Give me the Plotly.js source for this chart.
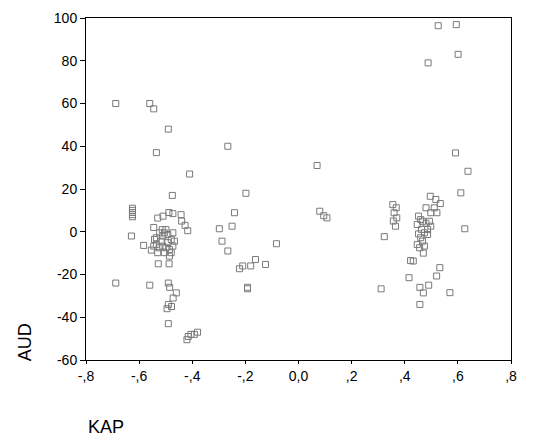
<!DOCTYPE html>
<html>
<head>
<meta charset="utf-8">
<script src="https://cdn.plot.ly/plotly-3.0.1.min.js"></script>
<style>html,body{margin:0;padding:0;background:#fff;}#chart{width:537px;height:440px;}</style>
</head>
<body>
<div id="chart"></div>
<script>
const kap = [
  -0.688, -0.56, -0.545, -0.49, -0.535, -0.41, -0.266, -0.475, -0.198,
  -0.625, -0.625, -0.625, -0.625, -0.625, -0.629,
  -0.688, -0.56, -0.49, -0.485, -0.528, -0.487, -0.46, -0.49, -0.478, -0.495, -0.472,
  -0.49, -0.42, -0.405, -0.392, -0.38, -0.415,
  -0.545, -0.53, -0.51, -0.488, -0.473, -0.442, -0.44, -0.427, -0.417,
  -0.583, -0.554,
  -0.542, -0.535, -0.525, -0.517, -0.511, -0.505, -0.499, -0.492, -0.486, -0.479,
  -0.473, -0.467, -0.523, -0.535, -0.511, -0.499, -0.486, -0.505, -0.479, -0.473,
  -0.513, -0.492, -0.545, -0.53,
  -0.241, -0.298, -0.25, -0.288, -0.266, -0.083, -0.222, -0.21, -0.18, -0.162, -0.124,
  -0.192, -0.192, 0.07, 0.08, 0.107, 0.095,
  0.311, 0.323, 0.355, 0.368, 0.36, 0.37, 0.357, 0.365,
  0.452, 0.46, 0.447, 0.467, 0.48, 0.493, 0.463, 0.486, 0.498, 0.452, 0.46, 0.467,
  0.447, 0.456, 0.474, 0.486, 0.498, 0.48, 0.511, 0.521, 0.534, 0.517, 0.496, 0.474,
  0.47, 0.432, 0.422, 0.416, 0.457, 0.47, 0.49, 0.457, 0.52, 0.532, 0.57,
  0.626, 0.611, 0.638, 0.591, 0.601, 0.488, 0.526, 0.594
];
const aud = [
  60, 60, 57.5, 48, 37, 27, 40, 17, 18,
  11, 10, 9, 8, 7, -2,
  -24, -25, -24, -26, -15, -15, -28.6, -34, -35, -36, -31,
  -43, -50.5, -48, -48, -47, -49,
  2, 6.4, 7.3, 9, 8.5, 8, 5, 3, 0.5,
  -6.4, -8.6,
  -3.6, -5.9, -7.5, -4.4, -2, -0.5, 1, -5.1, -8.3, -9.8,
  -6.7, -4.4, -0.5, -2.8, -6.7, -7.5, -11.4, -9.8, -3.6, -0.5,
  1, -1.3, -6.7, -9.8,
  8.9, 1.4, 2.6, -4.4, -9, -5.6, -17.3, -16, -16, -13, -15.3,
  -26.7, -26, 31, 9.6, 6.5, 7.5,
  -26.7, -2.3, 12.7, 11.2, 8.9, 6.5, 5, 2.6,
  7.3, 5.7, 3.4, 4.9, 4, 4.9, 1.1, 1.1, 2.6, -1, -2.8, -4.4,
  -6, -7.5, -6.7, -1.3, 8.9, 11.2, 11.2, 8.9, 13.2, 15.1, 16.6, -0.5,
  -10, -13.7, -13.5, -21.5, -26, -28.6, -25, -34, -20.7, -16.8, -28.5,
  1.4, 18.2, 28.3, 36.9, 83, 79, 96.4, 96.9
];
const xTickVals = [-0.8, -0.6, -0.4, -0.2, 0, 0.2, 0.4, 0.6, 0.8];
const xTickText = ['-,8', '-,6', '-,4', '-,2', '0,0', ',2', ',4', ',6', ',8'];
const yTickVals = [-60, -40, -20, 0, 20, 40, 60, 80, 100];
const yTickText = ['-60', '-40', '-20', '0', '20', '40', '60', '80', '100'];

const trace = {
  x: kap, y: aud, type: 'scatter', mode: 'markers',
  marker: {symbol: 'square-open', size: 6, color: '#7a7a7a', line: {width: 1, color: '#7a7a7a'}},
  hoverinfo: 'x+y'
};
const layout = {
  width: 537, height: 440,
  margin: {l: 86, r: 26, t: 18, b: 80},
  paper_bgcolor: '#fff', plot_bgcolor: '#fff',
  font: {family: 'Liberation Sans, Arial, sans-serif', size: 14, color: '#000'},
  showlegend: false,
  xaxis: {
    range: [-0.8, 0.8], tickvals: xTickVals, ticktext: xTickText,
    showgrid: false, zeroline: false, showline: true, linecolor: '#000', linewidth: 1,
    mirror: true, ticks: 'outside', ticklen: 3, tickcolor: '#000',
    tickfont: {size: 14}
  },
  yaxis: {
    range: [-60, 100], tickvals: yTickVals, ticktext: yTickText,
    showgrid: false, zeroline: false, showline: true, linecolor: '#000', linewidth: 1,
    mirror: true, ticks: 'outside', ticklen: 5, tickcolor: '#000',
    tickfont: {size: 14}
  },
  annotations: [
    {text: 'AUD', xref: 'paper', yref: 'paper', x: -0.145, y: 0.053, xanchor: 'center', yanchor: 'middle',
     textangle: -90, showarrow: false, font: {size: 18}},
    {text: 'KAP', xref: 'paper', yref: 'paper', x: 0.047, y: -0.197, xanchor: 'center', yanchor: 'middle',
     showarrow: false, font: {size: 18}}
  ]
};
Plotly.newPlot('chart', [trace], layout, {displayModeBar: false, staticPlot: true});
</script>
</body>
</html>
